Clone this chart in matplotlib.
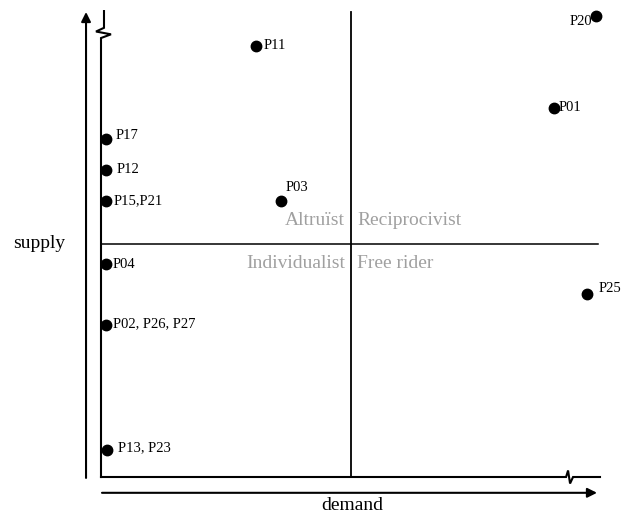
import matplotlib
matplotlib.use("Agg")
import matplotlib.pyplot as plt

plt.rcParams['font.family'] = ['Liberation Serif', 'DejaVu Serif']

# participants: demand (x) and supply (y), 0-10 scale
labels = ['P20', 'P11', 'P01', 'P17', 'P12', 'P15,P21', 'P03',
          'P04', 'P25', 'P02, P26, P27', 'P13, P23']
demand = [9.92, 3.11, 9.08, 0.10, 0.10, 0.10, 3.61, 0.10, 9.74, 0.10, 0.12]
supply = [9.91, 9.27, 7.94, 7.27, 6.60, 5.94, 5.94, 4.58, 3.94, 3.27, 0.58]

quadrants = ['Altruïst', 'Reciprocivist', 'Individualist', 'Free rider']

# label offsets in pixels (dx, dy, ha)
offsets = {
    'P20': (-4, -5, 'right'),
    'P11': (7, 0, 'left'),
    'P01': (5, 0, 'left'),
    'P17': (10, 3, 'left'),
    'P12': (11, 1, 'left'),
    'P15,P21': (8, 0, 'left'),
    'P03': (4, 13, 'left'),
    'P04': (7, 0, 'left'),
    'P25': (12, 5, 'left'),
    'P02, P26, P27': (7, 1, 'left'),
    'P13, P23': (11, 2, 'left'),
}


def main():
    fig = plt.figure(figsize=(6.23, 5.16), dpi=100)
    ax = fig.add_axes([101 / 623, 39 / 516, 499 / 623, 465 / 516])
    ax.set_xlim(0, 10)
    ax.set_ylim(0, 10)
    ax.axis('off')

    # inner left axis with break
    ax.plot([0.06, 0.06, -0.10, 0.20, 0, 0], [10.02, 9.66, 9.58, 9.52, 9.44, 0],
            color='black', lw=1.5, clip_on=False, solid_joinstyle='miter')
    # inner bottom axis with break
    ax.plot([0, 9.32, 9.36, 9.40, 9.46, 10.0], [0, 0, 0.14, -0.14, 0, 0],
            color='black', lw=1.5, clip_on=False, solid_joinstyle='miter')

    # quadrant lines
    ax.plot([5, 5], [0, 10], color='black', lw=1.3, clip_on=False)
    ax.plot([0, 9.96], [5, 5], color='black', lw=1.1, clip_on=False)

    # outer arrows
    arrow = dict(arrowstyle='-|>', lw=1.5, color='black', mutation_scale=14,
                 shrinkA=0, shrinkB=0)
    ax.annotate('', xy=(-0.30, 10.0), xytext=(-0.30, -0.02),
                arrowprops=arrow, annotation_clip=False)
    ax.annotate('', xy=(9.94, -0.34), xytext=(0.02, -0.34),
                arrowprops=arrow, annotation_clip=False)

    ax.text(-1.24, 5.03, 'supply', fontsize=14, ha='center', va='center')
    ax.text(5.03, -0.62, 'demand', fontsize=14, ha='center', va='center')

    grey = '#a0a0a0'
    ax.text(4.89, 5.42, quadrants[0], color=grey, fontsize=14, ha='right', va='baseline')
    ax.text(5.13, 5.42, quadrants[1], color=grey, fontsize=14, ha='left', va='baseline')
    ax.text(4.89, 4.49, quadrants[2], color=grey, fontsize=14, ha='right', va='baseline')
    ax.text(5.13, 4.49, quadrants[3], color=grey, fontsize=14, ha='left', va='baseline')

    ax.plot(demand, supply, 'o', color='black', markersize=7.5, clip_on=False)
    for lab, x, y in zip(labels, demand, supply):
        dx, dy, ha = offsets[lab]
        ax.annotate(lab, (x, y), xytext=(dx, dy), textcoords='offset pixels',
                    fontsize=10.5, ha=ha, va='center', annotation_clip=False)

    fig.savefig('out.png', dpi=100)


if __name__ == "__main__":
    main()
